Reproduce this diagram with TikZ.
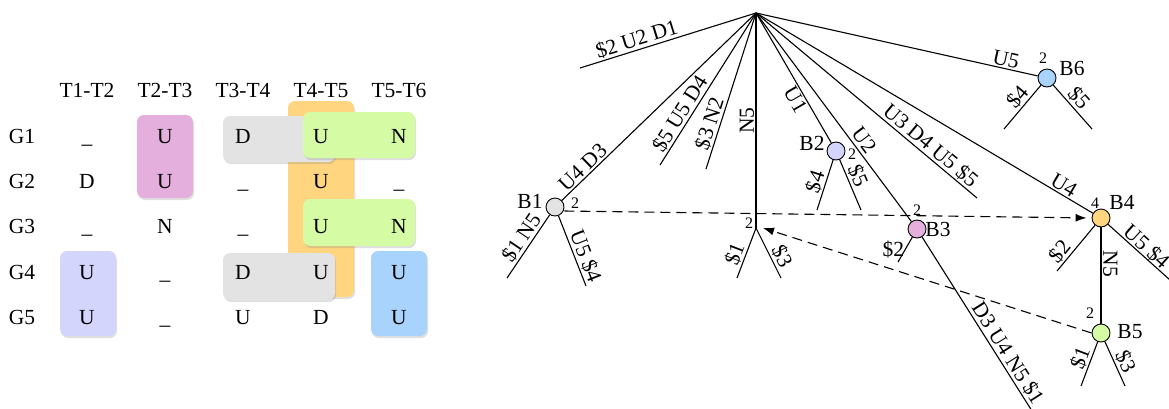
\documentclass[tikz,border=0pt]{standalone}
\usepackage{fontspec}
\setmainfont{Liberation Serif}
\usetikzlibrary{arrows.meta,shadows,calc}
\definecolor{cgray}{HTML}{E3E3E3}
\definecolor{cpink}{HTML}{E4AFDC}
\definecolor{corange}{HTML}{FFD57F}
\definecolor{cgreen}{HTML}{D6FBA5}
\definecolor{clav}{HTML}{D4D5FC}
\definecolor{cblue}{HTML}{A8D3FC}
\begin{document}
\begin{tikzpicture}[x=1pt,y=-1pt,line width=1.1pt,
  cell/.style={anchor=base,font=\fontsize{21.5}{24}\selectfont,inner sep=0pt},
  hbox/.style={rounded corners=7pt,drop shadow={shadow xshift=1pt,shadow yshift=-2pt,opacity=0.25}},
  bnode/.style={circle,draw,line width=0.9pt,minimum size=18pt,inner sep=0pt},
  lab/.style={font=\fontsize{21.5}{24}\selectfont,inner sep=1.5pt},
  elab/.style={lab,sloped,above},
  num/.style={font=\fontsize{16}{18}\selectfont,inner sep=0pt},
  dasharrow/.style={dash pattern=on 10pt off 6pt,-{Latex[length=11pt,width=8pt]}}]
\useasboundingbox (0,0) rectangle (1169,408);
% ---------- table highlight boxes ----------
\fill[corange,hbox] (288,101) rectangle (354,297);
\fill[cpink,hbox] (137,115) rectangle (193,198);
\fill[clav,hbox] (60,251) rectangle (116,336);
\fill[cblue,hbox] (371,251) rectangle (427,336);
\fill[cgray,hbox] (223,116) rectangle (335,162);
\fill[cgray,hbox] (223,253) rectangle (335,300);
\fill[cgreen,hbox] (303,112) rectangle (415,158);
\fill[cgreen,hbox] (303,199) rectangle (415,246);
% ---------- table text ----------
\foreach \xx/\t [count=\i] in {87/T1-T2,165/T2-T3,243/T3-T4,321/T4-T5,399/T5-T6}
  \node[cell] (h\i) at (\xx,97) {\t};
\foreach \yy/\g/\a/\b/\c/\d/\e [count=\j] in {
  143/G1/\_/U/D/U/N,
  188/G2/D/U/\_/U/\_,
  233/G3/\_/N/\_/U/N,
  279/G4/U/\_/D/U/U,
  324/G5/U/\_/U/D/U}{
  \node[cell] (g\j) at (22,\yy) {\g};
  \node[cell] (c\j1) at (87,\yy) {\a};
  \node[cell] (c\j2) at (165,\yy) {\b};
  \node[cell] (c\j3) at (243,\yy) {\c};
  \node[cell] (c\j4) at (321,\yy) {\d};
  \node[cell] (c\j5) at (399,\yy) {\e};
}
% ---------- tree ----------
\coordinate (R) at (756,13);
\coordinate (V) at (756,228);
\node[bnode,fill=cgray] (B1) at (555,207) {};
\node[bnode,fill=clav] (B2) at (836,151) {};
\node[bnode,fill=cpink] (B3) at (917,229) {};
\node[bnode,fill=corange] (B4) at (1101,218) {};
\node[bnode,fill=cgreen] (B5) at (1101,333) {};
\node[bnode,fill=cblue] (B6) at (1047,78) {};
\coordinate (e1) at (580,68);
\coordinate (e3) at (660,165);
\coordinate (e4) at (706,169);
\coordinate (e8) at (977,198);
\coordinate (b1a) at (507,278);
\coordinate (b1b) at (586,286);
\coordinate (b2a) at (817,210);
\coordinate (b2b) at (861,210);
\coordinate (va) at (737,278);
\coordinate (vb) at (781,278);
\coordinate (b3a) at (898,262);
\coordinate (b3b) at (1032,411);
\coordinate (b4a) at (1057,271);
\coordinate (b4b) at (1170,280);
\coordinate (b5a) at (1081,386);
\coordinate (b5b) at (1125,386);
\coordinate (b6a) at (1004,129);
\coordinate (b6b) at (1092,129);
% edges from root
\draw (R) -- node[elab,pos=0.66]{\$2 U2 D1} (e1);
\draw (R) -- node[elab,pos=0.86]{U4 D3} (B1);
\draw (R) -- node[elab,pos=0.70]{\$5 U5 D4} (e3);
\draw (R) -- node[elab,pos=0.73]{\$3 N2} (e4);
\draw (V) -- node[elab,pos=0.5]{N5} (R);
\draw (R) -- node[lab,sloped,below,pos=0.63]{U1} (B2);
\draw (R) -- node[elab,pos=0.64,inner sep=3pt]{U2} (B3);
\draw (R) -- node[elab,pos=0.76]{U3 D4 U5 \$5} (e8);
\draw (R) -- node[elab,pos=0.9]{U4} (B4);
\draw (R) -- node[elab,pos=0.88]{U5} (B6);
% children
\draw (B1) -- node[elab,pos=0.46]{\$1 N5} (b1a);
\draw (B1) -- node[elab,pos=0.63]{U5 \$4} (b1b);
\draw (B2) -- node[elab,pos=0.5]{\$4} (b2a);
\draw (B2) -- node[elab,pos=0.4]{\$5} (b2b);
\draw (V) -- node[elab,pos=0.6]{\$1} (va);
\draw (V) -- node[elab,pos=0.66]{\$3} (vb);
\draw (B3) -- node[lab,left,pos=0.5,inner sep=0.5pt]{\$2} (b3a);
\draw (B3) -- node[elab,pos=0.70]{D3 U4 N5 \$1} (b3b);
\draw (B4) -- node[elab,pos=0.72]{\$2} (b4a);
\draw (B4) -- node[elab,pos=0.52,inner sep=0pt]{U5 \$4} (b4b);
\draw (B4) -- node[elab,pos=0.38]{N5} (B5);
\draw (B5) -- node[elab,pos=0.45]{\$1} (b5a);
\draw (B5) -- node[elab,pos=0.55]{\$3} (b5b);
\draw (B6) -- node[elab,pos=0.42]{\$4} (b6a);
\draw (B6) -- node[elab,pos=0.46]{\$5} (b6b);
% dashed arrows
\draw[dasharrow,shorten >=5pt] ([yshift=-4pt]B1.east) -- (B4.west);
\draw[dasharrow] (B5.west) -- ([xshift=7pt]V);
% node names and numbers
\node[lab] (l1) at (530,201) {B1};
\node[num] (n1) at (575,203) {2};
\node[lab] (l2) at (812,143) {B2};
\node[num] (n2) at (852,154) {2};
\node[lab] (l3) at (938,229) {B3};
\node[num] (n3) at (917,210) {2};
\node[lab] (l4) at (1122,202) {B4};
\node[num] (n4) at (1095,203) {4};
\node[lab] (l5) at (1130,332) {B5};
\node[num] (n5) at (1090,313) {2};
\node[lab] (l6) at (1072,68) {B6};
\node[num] (n6) at (1043,58) {2};
\node[num] (nv) at (749,223) {2};
\end{tikzpicture}
\end{document}
